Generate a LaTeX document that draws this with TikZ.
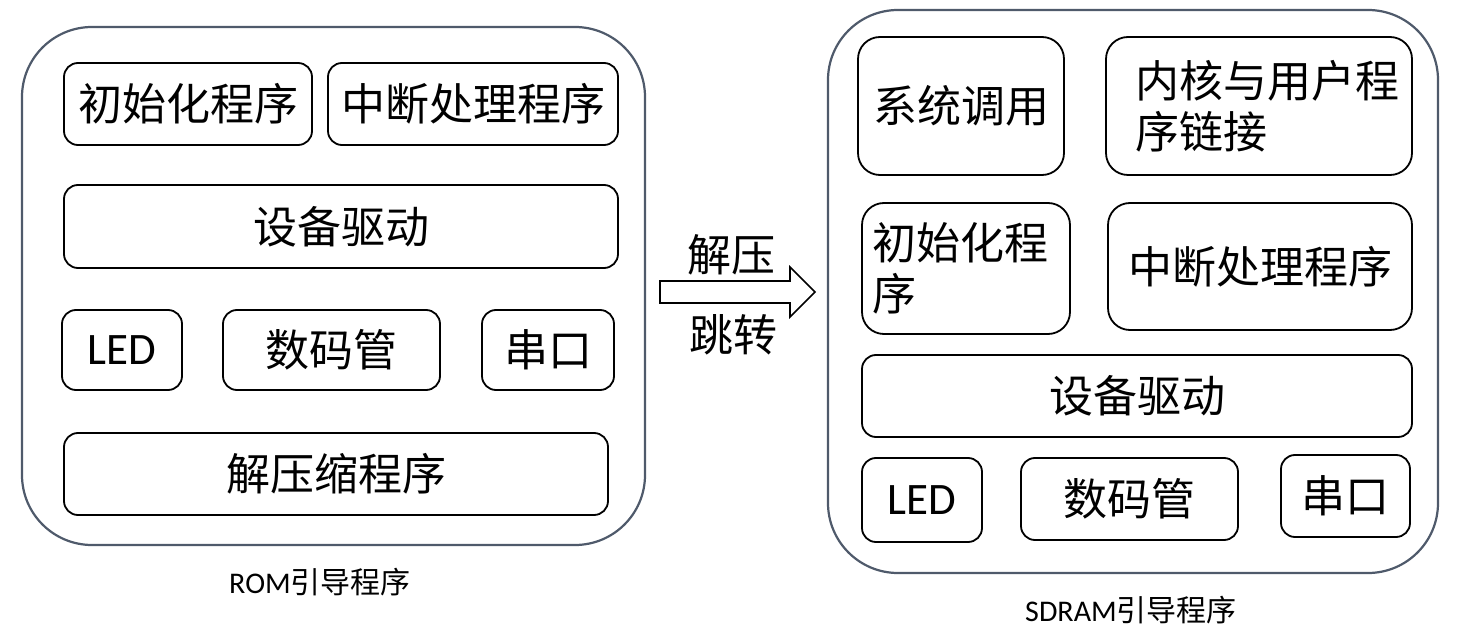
\documentclass[tikz,border=0pt]{standalone}
\usepackage{fontspec}
\setmainfont{Carlito}
\newfontfamily\cjk{Noto Sans CJK SC}
\definecolor{outerc}{HTML}{4F5A6B}
\tikzset{
  outerbox/.style={draw=outerc, line width=2.2pt, rounded corners=70pt, inner sep=0pt},
  ibox/.style={draw=black, line width=1.8pt, rounded corners=14pt, inner sep=0pt, font=\cjk\fontsize{44}{51}\selectfont},
  rbox/.style={ibox, rounded corners=22pt},
  ledtxt/.style={font=\fontsize{45}{50}\selectfont},
  captxt/.style={font=\fontsize{30}{34}\selectfont, inner sep=0pt},
  arrtxt/.style={font=\cjk\fontsize{44}{50}\selectfont, inner sep=0pt},
}
\begin{document}
\begin{tikzpicture}[x=1pt,y=-1pt]
\useasboundingbox (0,0) rectangle (1468,644);
% left outer
\node[outerbox, minimum width=623pt, minimum height=518pt] (L) at (333.5,286) {};
\node[ibox, minimum width=248pt, minimum height=82pt] (a1) at (188,104) {初始化程序};
\node[ibox, minimum width=290pt, minimum height=82pt] (a2) at (473,104) {中断处理程序};
\node[ibox, minimum width=554pt, minimum height=83pt] (a3) at (341,226.5) {设备驱动};
\node[ibox, ledtxt, minimum width=120pt, minimum height=80pt] (a4) at (122,350) {LED};
\node[ibox, minimum width=217pt, minimum height=80pt] (a5) at (331.5,350) {数码管};
\node[ibox, minimum width=132pt, minimum height=80pt] (a6) at (548,350) {串口};
\node[ibox, minimum width=544pt, minimum height=82pt] (a7) at (336,474) {解压缩程序};
\node[captxt] (lc) at (320,582) {ROM{\cjk 引导程序}};
% arrow
\draw[line width=1.6pt, fill=white] (660,281) -- (790,281) -- (790,267) -- (815,292) -- (790,317) -- (790,303) -- (660,303) -- cycle;
\node[arrtxt] (t1) at (731,255) {解压};
\node[arrtxt] (t2) at (733,335) {跳转};
% right outer
\node[outerbox, minimum width=610pt, minimum height=563pt] (R) at (1133,291.5) {};
\node[rbox, minimum width=206pt, minimum height=138pt] (b1) at (961,106) {系统调用};
\node[rbox, minimum width=306pt, minimum height=138pt, align=left, text width=290pt, inner xsep=8pt] (b2) at (1259,106) {\hspace*{21pt}内核与用户程\\\hspace*{21pt}序链接};
\node[rbox, minimum width=208pt, minimum height=131pt, align=left, text width=188pt, inner xsep=10pt] (b3) at (966,268.5) {初始化程\\序};
\node[rbox, minimum width=304pt, minimum height=127pt] (b4) at (1260,266.5) {中断处理程序};
\node[ibox, minimum width=550pt, minimum height=82pt] (b5) at (1137,396) {设备驱动};
\node[ibox, ledtxt, minimum width=120pt, minimum height=84pt] (b6) at (922,500) {LED};
\node[ibox, minimum width=217pt, minimum height=82pt] (b7) at (1129.5,499) {数码管};
\node[ibox, minimum width=129pt, minimum height=82pt] (b8) at (1345.5,496) {串口};
\node[captxt] (rc) at (1131,610) {SDRAM{\cjk 引导程序}};
\end{tikzpicture}
\end{document}
